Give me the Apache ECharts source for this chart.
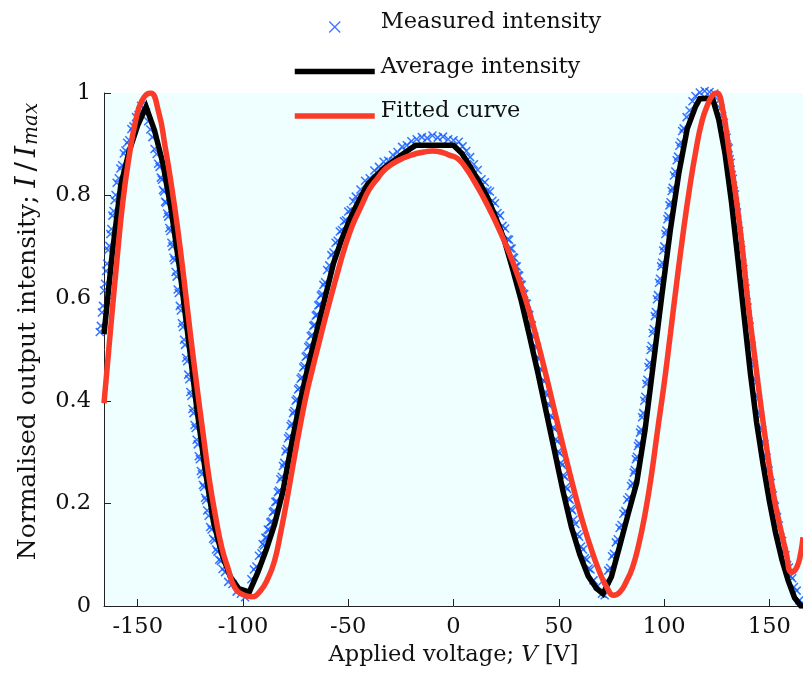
<!DOCTYPE html>
<html>
<head>
<meta charset="utf-8">
<script src="https://cdn.jsdelivr.net/npm/echarts@6/dist/echarts.min.js"></script>
<style>
html, body { margin: 0; padding: 0; background: #ffffff; }
#chart { width: 803px; height: 677px; }
</style>
</head>
<body>
<div id="chart"></div>
<script>
// Measured intensity readings: [voltage (V), normalised intensity]
const measuredReadings = [
  // first rising edge
  [-168, 0.534], [-167.5, 0.546], [-167, 0.572], [-166.5, 0.585], [-166, 0.615], [-165.5, 0.628], [-165, 0.653], [-164.5, 0.667],
  [-164, 0.694], [-163.5, 0.702], [-163, 0.725], [-162.5, 0.735], [-162, 0.761], [-161.5, 0.770], [-161, 0.791], [-160.5, 0.801],
  [-160, 0.825], [-159, 0.834], [-158.2, 0.853], [-157.4, 0.859], [-156.6, 0.882], [-155.8, 0.888], [-155, 0.903], [-154, 0.908],
  [-153, 0.930], [-152, 0.935], [-150.8, 0.953], [-149.6, 0.957], [-148.4, 0.975], [-147.2, 0.970], [-146, 0.962],
  // first falling edge
  [-145, 0.945], [-144, 0.929], [-143, 0.914], [-142, 0.891], [-141, 0.881], [-140.3, 0.862], [-139.6, 0.856], [-139, 0.835],
  [-138.5, 0.831], [-138, 0.811], [-137.5, 0.808], [-137, 0.788], [-136.5, 0.786], [-136, 0.765], [-135.5, 0.759], [-135, 0.737],
  [-134.5, 0.731], [-134, 0.708], [-133.5, 0.701], [-133, 0.679], [-132.5, 0.674], [-132, 0.651], [-131.5, 0.642], [-131, 0.617],
  [-130.5, 0.610], [-130, 0.585], [-129.5, 0.576], [-129, 0.551], [-128.5, 0.544], [-128, 0.519], [-127.5, 0.509], [-127, 0.484],
  [-126.5, 0.477], [-126, 0.451], [-125.5, 0.442], [-125, 0.417], [-124.5, 0.410], [-124, 0.384], [-123.5, 0.376], [-123, 0.353],
  [-122.5, 0.347], [-122, 0.324], [-121.5, 0.315], [-121, 0.292], [-120.5, 0.286], [-120, 0.263], [-119.5, 0.257], [-119, 0.236],
  [-118.5, 0.232], [-118, 0.211], [-117.5, 0.206], [-117, 0.186], [-116.3, 0.176], [-115.6, 0.154], [-114.9, 0.149], [-114.2, 0.131],
  [-113.5, 0.128], [-112.8, 0.110], [-112.1, 0.106], [-111.3, 0.090], [-110.5, 0.088], [-109.7, 0.072], [-108.5, 0.066], [-107, 0.047],
  [-105, 0.043], [-103, 0.028], [-101, 0.024], [-99, 0.017], [-97.5, 0.024],
  // second rising edge
  [-96, 0.052], [-94.8, 0.071], [-93.6, 0.077], [-92.4, 0.098], [-91.2, 0.103], [-90.6, 0.121], [-90, 0.118], [-89.4, 0.133],
  [-88.8, 0.133], [-88.2, 0.149], [-87.6, 0.148], [-87, 0.163], [-86.4, 0.165], [-85.8, 0.183], [-85.2, 0.185], [-84.6, 0.203],
  [-84, 0.204], [-83.4, 0.222], [-82.8, 0.225], [-82.2, 0.247], [-81.6, 0.252], [-81, 0.273], [-80.4, 0.279], [-79.8, 0.301],
  [-79.2, 0.306], [-78.6, 0.327], [-78, 0.331], [-77.4, 0.351], [-76.8, 0.355], [-76.2, 0.376], [-75.6, 0.380], [-75, 0.400],
  [-74.4, 0.403], [-73.8, 0.422], [-73.2, 0.425], [-72.6, 0.443], [-72, 0.446], [-71.4, 0.465], [-70.8, 0.468], [-70.2, 0.486],
  [-69.6, 0.488], [-69, 0.505], [-68.4, 0.508], [-67.8, 0.526], [-67.2, 0.528], [-66.6, 0.546], [-66, 0.548], [-65.4, 0.566],
  [-64.8, 0.568], [-64.2, 0.586], [-63.6, 0.588], [-63, 0.605], [-62.4, 0.608], [-61.8, 0.626], [-61, 0.631], [-60, 0.655],
  [-59, 0.664], [-58, 0.684], [-57, 0.689], [-56, 0.708], [-55, 0.712], [-54, 0.730], [-53, 0.733], [-52, 0.750],
  [-51, 0.752], [-50, 0.769], [-48.8, 0.772], [-47.6, 0.789], [-46.4, 0.798], [-44.2, 0.812], [-42, 0.829], [-39.8, 0.834],
  [-37.6, 0.849], [-35.4, 0.856], [-33.2, 0.866], [-31, 0.868], [-28.8, 0.879], [-26.6, 0.885], [-24.4, 0.895], [-22.2, 0.898],
  [-20, 0.906],
  // central maximum
  [-17.5, 0.910], [-15, 0.914], [-12.5, 0.912], [-10, 0.917], [-7.5, 0.913], [-5, 0.915], [-2.5, 0.910], [0, 0.908],
  // second falling edge
  [2.5, 0.905], [4.3, 0.896], [6.1, 0.887], [7.9, 0.875], [9.7, 0.861], [11.5, 0.850], [13.3, 0.832], [14.9, 0.826],
  [16.1, 0.810], [17.3, 0.808], [18.5, 0.790], [19.7, 0.785], [20.9, 0.766], [22.1, 0.761], [23.3, 0.741], [24.5, 0.736],
  [25.7, 0.715], [26.4, 0.714], [27, 0.697], [27.6, 0.697], [28.2, 0.680], [28.8, 0.679], [29.4, 0.662], [30, 0.662],
  [30.6, 0.645], [31.2, 0.644], [31.8, 0.627], [32.4, 0.626], [33, 0.609], [33.6, 0.608], [34.2, 0.590], [34.8, 0.589],
  [35.4, 0.569], [36, 0.567], [36.6, 0.548], [37.2, 0.547], [37.8, 0.527], [38.4, 0.525], [39, 0.506], [39.6, 0.504],
  [40.2, 0.484], [40.8, 0.482], [41.4, 0.462], [42, 0.460], [42.6, 0.440], [43.2, 0.438], [43.8, 0.417], [44.4, 0.411],
  [45, 0.394], [45.6, 0.391], [46.2, 0.371], [46.8, 0.368], [47.4, 0.348], [48, 0.345], [48.6, 0.325], [49.2, 0.321],
  [49.8, 0.301], [50.4, 0.298], [51, 0.279], [51.6, 0.275], [52.2, 0.255], [52.8, 0.252], [53.4, 0.232], [54, 0.228],
  [54.6, 0.210], [55.2, 0.207], [55.8, 0.189], [56.4, 0.186], [57, 0.168], [57.9, 0.160], [58.8, 0.140], [59.7, 0.135],
  [60.6, 0.116], [61.5, 0.110], [62.4, 0.093], [63.3, 0.090], [64.2, 0.073], [65.1, 0.071], [66.5, 0.050], [68.5, 0.039],
  [70.5, 0.024], [71.8, 0.021],
  // third rising edge
  [72.6, 0.049], [73.5, 0.069], [74.4, 0.074], [75.3, 0.097], [76.2, 0.102], [77.1, 0.124], [78, 0.130], [78.9, 0.152],
  [79.8, 0.158], [80.7, 0.180], [81.6, 0.185], [82.5, 0.207], [83.4, 0.212], [84.3, 0.234], [85.1, 0.239], [85.6, 0.260],
  [86.1, 0.265], [86.6, 0.286], [87.1, 0.291], [87.6, 0.312], [88.1, 0.317], [88.6, 0.338], [89.1, 0.344], [89.6, 0.368],
  [90.1, 0.376], [90.6, 0.400], [91.1, 0.408], [91.6, 0.433], [92.1, 0.441], [92.6, 0.466], [93.1, 0.474], [93.6, 0.499],
  [94.1, 0.507], [94.6, 0.532], [95.1, 0.540], [95.6, 0.565], [96.1, 0.573], [96.6, 0.598], [97.1, 0.606], [97.6, 0.630],
  [98.1, 0.638], [98.6, 0.662], [99.1, 0.669], [99.6, 0.693], [100.1, 0.701], [100.6, 0.725], [101.1, 0.732], [101.6, 0.754],
  [102.1, 0.760], [102.6, 0.781], [103.1, 0.787], [103.6, 0.809], [104.1, 0.815], [104.7, 0.839], [105.35, 0.847], [106, 0.869],
  [106.65, 0.876], [107.3, 0.897], [107.95, 0.904], [108.6, 0.926], [109.3, 0.931], [110.7, 0.953], [112.1, 0.966], [113.5, 0.984],
  [114.9, 0.994],
  // right maximum
  [117, 1.001], [119.3, 1.004], [121.6, 1.002], [123.9, 0.999],
  // third falling edge
  [126, 0.985], [126.8, 0.970], [127.6, 0.955], [128.4, 0.942], [129.2, 0.918], [129.7, 0.913], [130.2, 0.895], [130.7, 0.892],
  [131.2, 0.871], [131.7, 0.864], [132.2, 0.840], [132.7, 0.833], [133.2, 0.809], [133.7, 0.802], [134.2, 0.777], [134.7, 0.767],
  [135.2, 0.741], [135.7, 0.731], [136.2, 0.704], [136.7, 0.694], [137.2, 0.668], [137.7, 0.657], [138.2, 0.629], [138.7, 0.619],
  [139.2, 0.592], [139.7, 0.582], [140.2, 0.554], [140.7, 0.545], [141.2, 0.517], [141.7, 0.507], [142.2, 0.479], [142.7, 0.470],
  [143.2, 0.443], [143.7, 0.436], [144.2, 0.411], [144.7, 0.404], [145.2, 0.378], [145.7, 0.371], [146.2, 0.348], [146.7, 0.342],
  [147.2, 0.320], [147.7, 0.316], [148.2, 0.294], [148.7, 0.289], [149.2, 0.268], [149.7, 0.264], [150.2, 0.244], [150.7, 0.240],
  [151.2, 0.220], [151.7, 0.216], [152.2, 0.197], [152.7, 0.194], [153.2, 0.176], [153.7, 0.173], [154.5, 0.157], [155.3, 0.134],
  [156.1, 0.127], [156.9, 0.106], [157.7, 0.099], [158.5, 0.080], [159.3, 0.075], [160.1, 0.058], [160.9, 0.054], [161.7, 0.037],
  [163, 0.030], [164.3, 0.011], [165.6, 0.006]
];

// Averaged intensity
const averageVoltage = [-166, -162, -158, -154, -150, -146, -142, -138, -134, -130, -126, -122, -118, -114, -110, -106, -102,
  -97, -93, -89, -85, -81, -77, -73, -69, -65, -61, -57, -53, -49, -45, -41, -37, -33, -29, -25, -21, -18, 0,
  4, 8, 12, 16, 20, 24, 28, 32, 36, 40, 44, 48, 52, 56, 60, 64, 68, 71,
  75, 79, 83, 87, 91, 95, 99, 103, 107, 111, 115, 117, 123,
  126, 129, 132, 135, 138, 141, 144, 147, 150, 153, 156, 159, 162, 165, 166];
const averageIntensity = [0.53, 0.69, 0.821, 0.887, 0.937, 0.973, 0.927, 0.862, 0.77, 0.655, 0.523, 0.388, 0.267, 0.164, 0.101, 0.057, 0.034,
  0.027, 0.065, 0.109, 0.159, 0.224, 0.314, 0.396, 0.468, 0.535, 0.601, 0.668, 0.716, 0.756, 0.79, 0.821, 0.838, 0.854, 0.866, 0.878, 0.89, 0.898, 0.898,
  0.882, 0.856, 0.828, 0.798, 0.758, 0.715, 0.658, 0.598, 0.528, 0.456, 0.379, 0.302, 0.224, 0.154, 0.1, 0.058, 0.034, 0.024,
  0.057, 0.118, 0.18, 0.24, 0.344, 0.475, 0.607, 0.733, 0.843, 0.93, 0.974, 0.989, 0.99,
  0.948, 0.881, 0.788, 0.679, 0.566, 0.454, 0.357, 0.277, 0.205, 0.142, 0.09, 0.049, 0.016, 0, 0];

// Fitted model curve
const fittedVoltage = [-166, -163, -160, -157, -154, -151, -148, -144, -140, -137,
  -134, -131, -128, -125, -122, -119, -116, -113, -110, -107,
  -104, -100, -96, -92, -88, -85, -82, -79, -76, -73,
  -70, -67, -64, -61, -58, -55, -52, -48, -44, -40,
  -36, -32, -26, -20, -14, -10, -6, -2, 2, 6,
  10, 14, 18, 22, 26, 30, 34, 38, 42, 46,
  50, 54, 58, 62, 66, 70, 73, 76, 79, 82,
  85, 88, 91, 94, 97, 100, 103, 106, 109, 112,
  115, 118, 121, 123, 125, 128, 131, 134, 137, 140,
  143, 146, 149, 152, 155, 158, 160.5, 163, 165, 166];
const fittedIntensity = [0.395, 0.534, 0.668, 0.79, 0.878, 0.945, 0.985, 1.0, 0.962, 0.896,
  0.821, 0.735, 0.636, 0.531, 0.432, 0.338, 0.247, 0.174, 0.113, 0.072,
  0.037, 0.022, 0.018, 0.028, 0.055, 0.088, 0.145, 0.21, 0.28, 0.348,
  0.41, 0.462, 0.511, 0.56, 0.606, 0.651, 0.694, 0.742, 0.778, 0.812,
  0.834, 0.853, 0.869, 0.879, 0.885, 0.887, 0.885, 0.879, 0.872, 0.853,
  0.827, 0.798, 0.766, 0.731, 0.693, 0.65, 0.601, 0.545, 0.482, 0.415,
  0.346, 0.279, 0.214, 0.155, 0.104, 0.06, 0.035, 0.021, 0.027, 0.047,
  0.075, 0.12, 0.18, 0.255, 0.345, 0.432, 0.53, 0.63, 0.725, 0.811,
  0.885, 0.945, 0.98, 0.995, 1.0, 0.965, 0.883, 0.803, 0.705, 0.587,
  0.488, 0.39, 0.301, 0.218, 0.157, 0.104, 0.066, 0.075, 0.105, 0.134];

// Axis ticks
const voltageTicks = [-150, -100, -50, 0, 50, 100, 150];
const intensityTickStep = 0.2;

const serif = "'DejaVu Serif', 'Liberation Serif', serif";
const ink = '#111111';
const blue = '#0a52ff';
const red = '#fb3b2a';
const crossPath = 'path://M0,0L10,10M10,0L0,10';

const averagePoints = averageVoltage.map((v, i) => [v, averageIntensity[i]]);
const fittedPoints = fittedVoltage.map((v, i) => [v, fittedIntensity[i]]);

const chart = echarts.init(document.getElementById('chart'), null, { renderer: 'canvas' });

chart.setOption({
  animation: false,
  backgroundColor: '#ffffff',
  textStyle: { fontFamily: serif, color: ink },
  grid: {
    left: 104, right: 0, top: 93, bottom: 71,
    show: true, backgroundColor: '#effefe', borderWidth: 0
  },
  legend: {
    orient: 'vertical',
    left: 287,
    top: 6,
    itemWidth: 80,
    itemHeight: 11,
    itemGap: 12.5,
    formatter: (name) => '{t|' + name + '}',
    textStyle: {
      fontFamily: serif, fontSize: 22.5, color: ink,
      rich: { t: { fontFamily: serif, fontSize: 22.5, color: ink, lineHeight: 24, padding: [0, 0, 9, 1] } }
    },
    lineStyle: { width: 5.5 },
    data: [
      { name: 'Measured intensity', icon: crossPath, itemStyle: { color: 'rgba(0,0,0,0)', borderColor: blue, borderWidth: 1.3 } },
      { name: 'Average intensity', itemStyle: { opacity: 0 } },
      { name: 'Fitted curve', itemStyle: { opacity: 0 } }
    ]
  },
  xAxis: {
    type: 'value',
    min: -166,
    max: 166,
    axisLine: { show: true, onZero: false, lineStyle: { color: '#222', width: 1 } },
    axisTick: { show: true, inside: true, length: 7, customValues: voltageTicks, lineStyle: { color: '#222', width: 1 } },
    axisLabel: { customValues: voltageTicks, margin: 10, fontFamily: serif, fontSize: 22.5, color: ink },
    splitLine: { show: false },
    name: 'Applied voltage; {it|V} [V]',
    nameLocation: 'middle',
    nameGap: 38,
    nameTextStyle: {
      fontFamily: serif, fontSize: 22.5, color: ink,
      rich: { it: { fontFamily: serif, fontStyle: 'italic', fontSize: 22.5, color: ink } }
    }
  },
  yAxis: {
    type: 'value',
    min: 0,
    max: 1,
    interval: intensityTickStep,
    axisLine: { show: true, onZero: false, lineStyle: { color: '#222', width: 1 } },
    axisTick: { show: true, inside: true, length: 7, lineStyle: { color: '#222', width: 1 } },
    axisLabel: { margin: 13, fontFamily: serif, fontSize: 22.5, color: ink },
    splitLine: { show: false },
    name: 'Normalised output intensity; {it|I}{sl|/}{it|I}{sub|max}',
    nameLocation: 'middle',
    nameGap: 62,
    nameTextStyle: {
      fontFamily: serif, fontSize: 25, color: ink, lineHeight: 28,
      padding: [0, 0, 0, 36],
      rich: {
        it: { fontFamily: serif, fontStyle: 'italic', fontSize: 28, color: ink, lineHeight: 28 },
        sl: { fontFamily: serif, fontSize: 28, color: ink, lineHeight: 28, padding: [0, 5, 0, 5] },
        sub: { fontFamily: serif, fontStyle: 'italic', fontSize: 20, color: ink, lineHeight: 16, verticalAlign: 'bottom', padding: [0, 0, 0, 1] }
      }
    }
  },
  series: [
    {
      name: 'Measured intensity',
      type: 'scatter',
      data: measuredReadings,
      symbol: crossPath,
      symbolSize: 8,
      clip: false,
      itemStyle: { color: 'rgba(0,0,0,0)', borderColor: blue, borderWidth: 1.5 },
      z: 2
    },
    {
      name: 'Average intensity',
      type: 'line',
      data: averagePoints,
      symbol: 'none',
      lineStyle: { color: '#000000', width: 5.5, join: 'miter' },
      itemStyle: { color: '#000000' },
      z: 3
    },
    {
      name: 'Fitted curve',
      type: 'line',
      data: fittedPoints,
      symbol: 'none',
      smooth: true,
      lineStyle: { color: red, width: 5.5 },
      itemStyle: { color: red },
      z: 4
    }
  ]
});
</script>
</body>
</html>
